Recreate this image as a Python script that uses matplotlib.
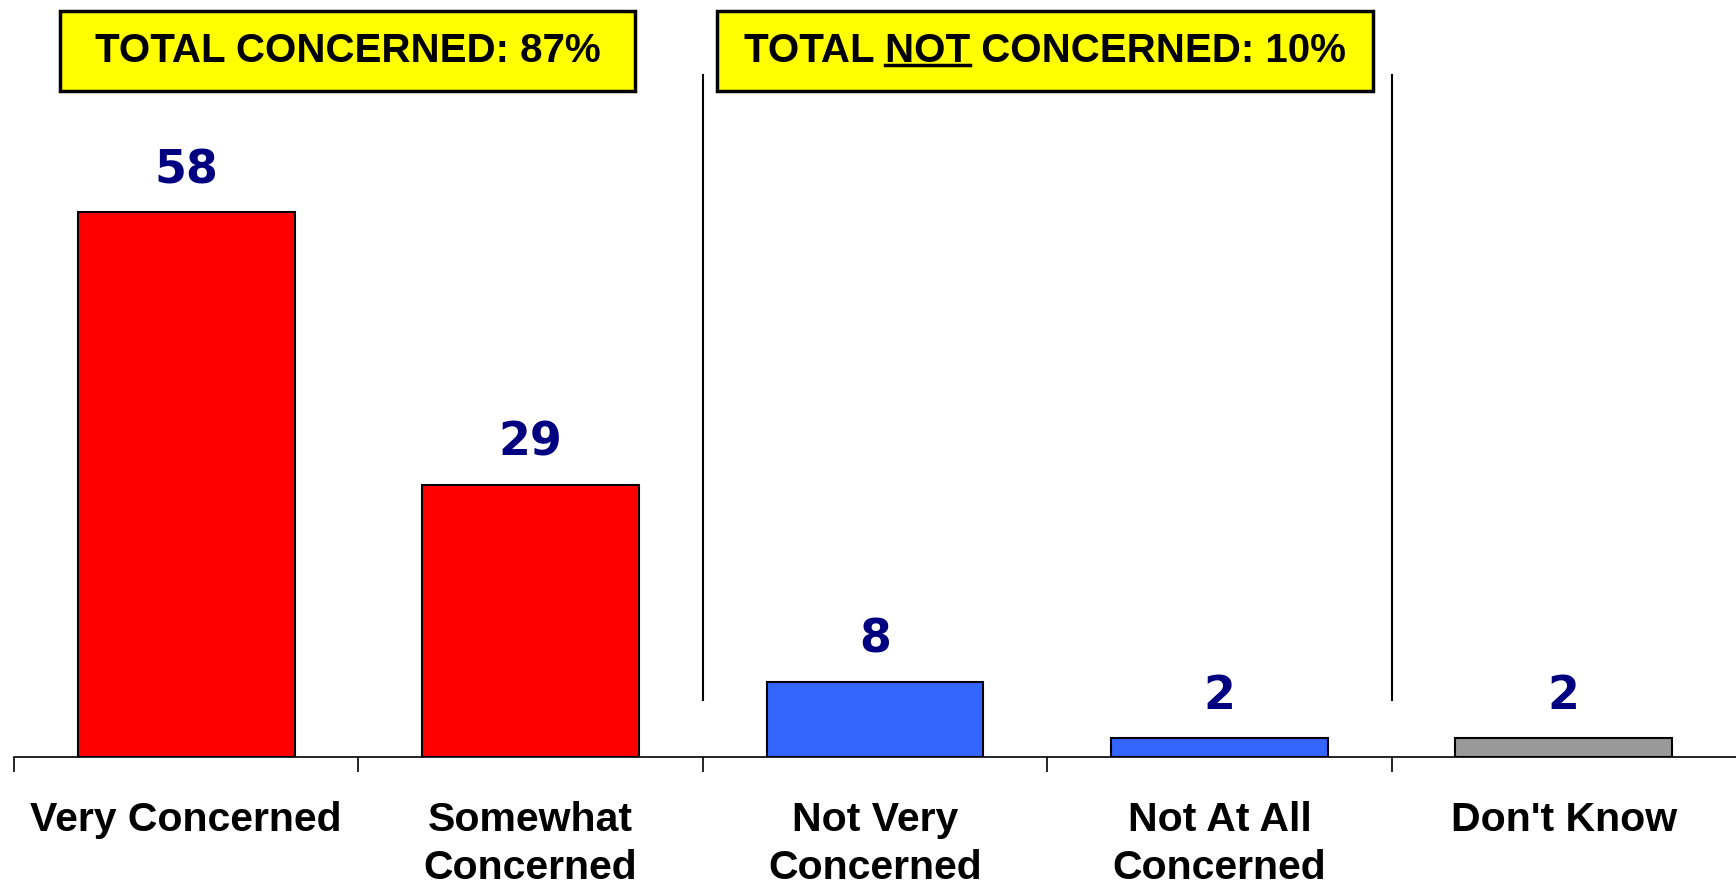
import matplotlib
matplotlib.use("Agg")
import matplotlib.pyplot as plt
from matplotlib.patches import Rectangle
from matplotlib.lines import Line2D

categories = ["Very Concerned", "Somewhat\nConcerned", "Not Very\nConcerned",
              "Not At All\nConcerned", "Don't Know"]
values = [58, 29, 8, 2, 2]
bar_colors = ["#FF0000", "#FF0000", "#3366FF", "#3366FF", "#999999"]
box_texts = ["TOTAL CONCERNED: 87%", "TOTAL NOT CONCERNED: 10%"]

W, H = 1736, 885
DPI = 100
fig = plt.figure(figsize=(W / DPI, H / DPI), dpi=DPI)
fig.patch.set_facecolor("white")

label_font = ["Liberation Sans Narrow", "Liberation Sans", "DejaVu Sans"]
num_font = ["DejaVu Sans"]

# axes: left at x=14 px, bottom (axis line) at y=757 px from top
ax = fig.add_axes([14 / W, (H - 757) / H, 1 - 14 / W, 757 / H])
ax.set_xlim(-0.5, len(categories) - 0.5)
ax.set_ylim(0, 80.6)

x = list(range(len(categories)))
ax.bar(x, values, width=0.63, color=bar_colors, edgecolor="black", linewidth=1.5, zorder=3)

for xi, v in zip(x, values):
    ax.annotate(str(v), xy=(xi, v), xytext=(0, 30), textcoords="offset points",
                ha="center", va="center", fontsize=33, fontweight="bold",
                color="#000080", family=num_font)

for xi, lab in zip(x, categories):
    ax.annotate(lab, xy=(xi, 0), xycoords=("data", "axes fraction"),
                xytext=(0, -32), textcoords="offset points",
                ha="center", va="top", fontsize=29.5, fontweight="bold",
                family=label_font, linespacing=1.32)

for sp in ["top", "right", "left"]:
    ax.spines[sp].set_visible(False)
ax.spines["bottom"].set_linewidth(1.2)
ax.set_yticks([])
ax.set_xticks([])
ax.set_xticks([i - 0.5 for i in range(len(categories))], minor=True)
ax.tick_params(axis="x", which="minor", length=11, width=1.2, direction="out")
ax.patch.set_alpha(0)

# separators
for xs in [1.5, 3.5]:
    ax.axvline(xs, ymin=0.075, ymax=0.901, color="black", linewidth=1.5)

# title boxes (pixel coords from top)
boxes = [(60, 11, 635, 91), (717, 11, 1373, 91)]
for (x0, y0, x1, y1) in boxes:
    fig.patches.append(Rectangle((x0 / W, 1 - y1 / H), (x1 - x0) / W, (y1 - y0) / H,
                                 transform=fig.transFigure, facecolor="#FFFF00",
                                 edgecolor="black", linewidth=2.5, zorder=5))

tprops = dict(fontsize=29, fontweight="bold", family=label_font, zorder=6)
cy = 1 - 51 / H
fig.text((60 + 635) / 2 / W, cy, box_texts[0], ha="center", va="center", **tprops)
t2 = fig.text((717 + 1373) / 2 / W, cy, box_texts[1], ha="center", va="center", **tprops)

# underline "NOT"
fig.canvas.draw()
r = fig.canvas.get_renderer()
full_bb = t2.get_window_extent(r)
pre = fig.text(0, 0, "TOTAL ", **tprops)
nt = fig.text(0, 0, "TOTAL NOT", **tprops)
w_pre = pre.get_window_extent(r).width
w_nt = nt.get_window_extent(r).width
pre.remove(); nt.remove()
ux0 = full_bb.x0 + w_pre
ux1 = full_bb.x0 + w_nt
uy = full_bb.y0 + full_bb.height * 0.12
fig.lines.append(Line2D([ux0 / W, ux1 / W], [uy / H, uy / H], transform=fig.transFigure,
                        color="black", linewidth=2.5, zorder=7))

fig.savefig("out.png", dpi=DPI)
